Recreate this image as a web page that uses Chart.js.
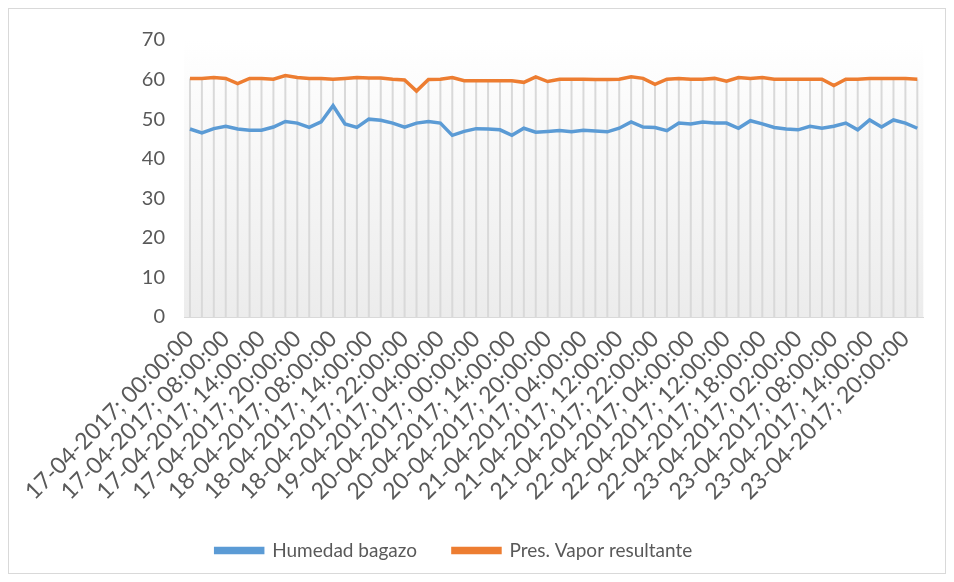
<!DOCTYPE html>
<html>
<head>
<meta charset="utf-8">
<script src="https://cdn.jsdelivr.net/npm/chart.js@4.4.1/dist/chart.umd.min.js"></script>
<style>
  html, body { margin: 0; padding: 0; background: #fff; }
  #box {
    position: absolute; left: 8px; top: 8px;
    width: 938px; height: 566px;
    border: 1px solid #d9d9d9; box-sizing: border-box;
    overflow: hidden;
  }
  #chart { display: block; }
</style>
</head>
<body>
<div id="box"><canvas id="chart" width="936" height="564"></canvas></div>
<script>
// Categories (every 3rd one is printed on the axis)
const timestamps = [
  '17-04-2017; 00:00:00', '17-04-2017; 02:00:00', '17-04-2017; 06:00:00',
  '17-04-2017; 08:00:00', '17-04-2017; 10:00:00', '17-04-2017; 12:00:00',
  '17-04-2017; 14:00:00', '17-04-2017; 16:00:00', '17-04-2017; 18:00:00',
  '17-04-2017; 20:00:00', '18-04-2017; 00:00:00', '18-04-2017; 04:00:00',
  '18-04-2017; 08:00:00', '18-04-2017; 10:00:00', '18-04-2017; 12:00:00',
  '18-04-2017; 14:00:00', '18-04-2017; 16:00:00', '18-04-2017; 20:00:00',
  '18-04-2017; 22:00:00', '19-04-2017; 00:00:00', '19-04-2017; 02:00:00',
  '19-04-2017; 04:00:00', '19-04-2017; 10:00:00', '19-04-2017; 18:00:00',
  '20-04-2017; 00:00:00', '20-04-2017; 04:00:00', '20-04-2017; 10:00:00',
  '20-04-2017; 14:00:00', '20-04-2017; 16:00:00', '20-04-2017; 18:00:00',
  '20-04-2017; 20:00:00', '20-04-2017; 22:00:00', '21-04-2017; 02:00:00',
  '21-04-2017; 04:00:00', '21-04-2017; 06:00:00', '21-04-2017; 10:00:00',
  '21-04-2017; 12:00:00', '21-04-2017; 16:00:00', '21-04-2017; 20:00:00',
  '21-04-2017; 22:00:00', '22-04-2017; 00:00:00', '22-04-2017; 02:00:00',
  '22-04-2017; 04:00:00', '22-04-2017; 06:00:00', '22-04-2017; 10:00:00',
  '22-04-2017; 12:00:00', '22-04-2017; 14:00:00', '22-04-2017; 16:00:00',
  '22-04-2017; 18:00:00', '22-04-2017; 20:00:00', '23-04-2017; 00:00:00',
  '23-04-2017; 02:00:00', '23-04-2017; 04:00:00', '23-04-2017; 06:00:00',
  '23-04-2017; 08:00:00', '23-04-2017; 10:00:00', '23-04-2017; 12:00:00',
  '23-04-2017; 14:00:00', '23-04-2017; 16:00:00', '23-04-2017; 18:00:00',
  '23-04-2017; 20:00:00', '23-04-2017; 22:00:00'
];

const humedadBagazo = [
  47.5, 46.5, 47.6, 48.2, 47.5, 47.2, 47.2, 48.0, 49.4, 49.0,
  47.9, 49.3, 53.4, 48.8, 47.9, 50.0, 49.7, 49.0, 48.0, 49.0,
  49.4, 49.0, 45.9, 46.9, 47.6, 47.5, 47.3, 45.9, 47.7, 46.7,
  46.9, 47.1, 46.8, 47.2, 47.0, 46.8, 47.7, 49.3, 48.0, 47.9,
  47.1, 49.0, 48.8, 49.3, 49.0, 49.0, 47.7, 49.6, 48.8, 47.9,
  47.5, 47.3, 48.2, 47.7, 48.2, 49.0, 47.3, 49.8, 48.0, 49.8,
  49.0, 47.7
];

const presVapor = [
  60.3, 60.3, 60.5, 60.3, 59.0, 60.3, 60.3, 60.1, 61.0, 60.5,
  60.3, 60.3, 60.1, 60.3, 60.5, 60.4, 60.4, 60.1, 59.9, 57.1,
  60.0, 60.1, 60.5, 59.7, 59.7, 59.7, 59.7, 59.7, 59.3, 60.7,
  59.5, 60.1, 60.1, 60.1, 60.0, 60.0, 60.1, 60.7, 60.3, 58.8,
  60.1, 60.3, 60.1, 60.1, 60.3, 59.6, 60.5, 60.3, 60.5, 60.1,
  60.1, 60.1, 60.1, 60.1, 58.5, 60.1, 60.1, 60.3, 60.3, 60.3,
  60.3, 60.1
];

const seriesNames = ['Humedad bagazo', 'Pres. Vapor resultante'];
const yTicks = [0, 10, 20, 30, 40, 50, 60, 70];

const textColor = '#595959';
const fontFamily = 'Lato, "Open Sans", sans-serif';

// plot area shading, light at the top, grey at the bottom
const plotBackground = {
  id: 'plotBackground',
  beforeDraw(chart) {
    const { ctx, chartArea: a } = chart;
    const g = ctx.createLinearGradient(0, a.top, 0, a.bottom);
    g.addColorStop(0, '#ffffff');
    g.addColorStop(1, '#ececec');
    ctx.save();
    ctx.fillStyle = g;
    ctx.fillRect(a.left, a.top, a.right - a.left, a.bottom - a.top);
    ctx.restore();
  }
};

// vertical drop lines from the highest point of each category to the axis
const dropLines = {
  id: 'dropLines',
  beforeDatasetsDraw(chart) {
    const ctx = chart.ctx;
    const y0 = chart.scales.y.getPixelForValue(0);
    const a = chart.getDatasetMeta(0).data;
    const b = chart.getDatasetMeta(1).data;
    ctx.save();
    ctx.strokeStyle = '#d9d9d9';
    ctx.lineWidth = 2;
    ctx.beginPath();
    for (let i = 0; i < b.length; i++) {
      const top = Math.min(a[i].y, b[i].y);
      ctx.moveTo(b[i].x, top);
      ctx.lineTo(b[i].x, y0);
    }
    ctx.stroke();
    ctx.restore();
  }
};

// the legend sits a little left of the canvas centre
const legendShift = {
  id: 'legendShift',
  afterLayout(chart) {
    chart.legend.left -= 13;
    chart.legend.right -= 13;
  }
};

new Chart(document.getElementById('chart'), {
  type: 'line',
  data: {
    labels: timestamps,
    datasets: [{
      label: seriesNames[0],
      data: humedadBagazo,
      borderColor: '#5b9bd5',
      backgroundColor: '#5b9bd5',
      borderWidth: 3.5,
      pointRadius: 0,
      tension: 0
    }, {
      label: seriesNames[1],
      data: presVapor,
      borderColor: '#ed7d31',
      backgroundColor: '#ed7d31',
      borderWidth: 3.5,
      pointRadius: 0,
      tension: 0
    }]
  },
  options: {
    responsive: false,
    animation: false,
    layout: { padding: { top: 19, right: 20, bottom: 3, left: 0 } },
    plugins: {
      legend: {
        position: 'bottom',
        labels: {
          color: textColor,
          font: { family: fontFamily, size: 19 },
          boxWidth: 47,
          boxHeight: 4,
          padding: 36
        }
      },
      tooltip: { enabled: false }
    },
    scales: {
      x: {
        offset: true,
        afterFit: function(scale) { scale.height = 188; },
        grid: { display: false, drawTicks: false },
        border: { color: '#d9d9d9', width: 1 },
        ticks: {
          autoSkip: false,
          minRotation: 45,
          maxRotation: 45,
          padding: 8,
          color: textColor,
          font: { family: fontFamily, size: 23 },
          callback: function(value, index) {
            return index % 3 === 0 ? this.getLabelForValue(value) : '';
          }
        }
      },
      y: {
        min: 0,
        max: 70,
        afterFit: function(scale) { scale.width = 175; },
        afterBuildTicks: function(scale) {
          scale.ticks = yTicks.map(v => ({ value: v }));
        },
        grid: { display: false, drawTicks: false },
        border: { display: false },
        ticks: {
          padding: 19,
          color: textColor,
          font: { family: fontFamily, size: 20 }
        }
      }
    }
  },
  plugins: [plotBackground, dropLines, legendShift]
});
</script>
</body>
</html>
